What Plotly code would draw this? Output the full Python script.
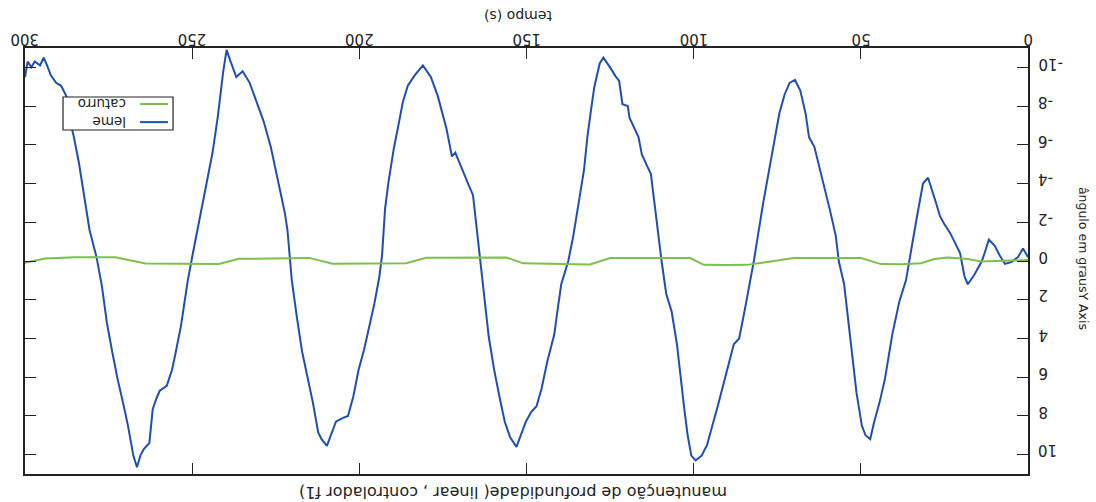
import plotly.graph_objects as go

# tempo (s) e ângulo do leme (graus)
leme_t = [0, 1.5, 3, 5, 6.9, 8.5, 10, 11.7, 13, 13.8, 16, 18, 19, 20.3, 22, 23.3, 25, 26.3,
          27.5, 28.7, 29.9, 31.4, 32.3, 33.2, 34.3, 35.3, 36.5, 38.5, 40.6, 42.8, 44.4, 46,
          47.2, 48.6, 49.7, 51.3, 52.3, 53.4, 55, 56.6, 57.5, 59.2, 60.2, 62.8, 63.9, 65.5,
          66.5, 68.1, 69.7, 71.3, 72.8, 74.4, 76, 77.6, 79.2, 80.7, 82, 84.8, 86.4, 88, 89.6,
          91.2, 92.8, 94.4, 96, 97.6, 99.4, 100.7, 101.8, 102.9, 103.9, 105, 106.6, 108.2,
          109.6, 111, 112.8, 113.9, 115.5, 116.5, 119.2, 119.7, 121.3, 122.3, 123.4, 125,
          127, 128.1, 129.7, 130.7, 131.8, 132.8, 134.4, 136, 137.5, 139.6, 140.6, 141.7,
          143.8, 145.5, 147, 148.6, 150.2, 151.8, 153, 154.9, 156.5, 158.1, 159.7, 161.3,
          162.8, 164, 165, 166, 167.6, 169.2, 170.7, 171.3, 172.3, 173.9, 176.5, 178.6, 181,
          183.4, 185.5, 187, 188.1, 189.7, 191.3, 192.3, 193.2, 194, 195.5, 197, 198.6,
          200.2, 201.8, 203.4, 204.9, 207, 208.6, 209.7, 211.3, 212.3, 213.9, 215.5, 217.1,
          218.6, 220.2, 220.9, 221.5, 222.3, 223.4, 224.9, 226.5, 228.6, 230.2, 232.8, 234.9,
          236.8, 238.5, 239.7, 240.7, 242.3, 243.9, 245.5, 247, 248.6, 249.9, 251.3, 252.3,
          253.4, 254.9, 256, 257.6, 259.7, 260.7, 261.8, 262.8, 264.4, 265.5, 266.5, 267.6,
          269.2, 270.7, 272.3, 273.9, 275.5, 277, 278.6, 280.7, 282.3, 283.9, 285.5, 286.5,
          287.6, 289.2, 290.7, 292.3, 293.4, 294.4, 295.5, 297.1, 298.1, 299.2, 300]
leme_v = [-0.2, -0.65, -0.2, 0.05, 0.15, -0.3, -0.8, -1.1, -0.4, 0.0, 0.7, 1.2, 0.8, -0.4,
          -1.0, -1.45, -1.9, -2.3, -3.0, -3.7, -4.3, -4.0, -3.2, -2.3, -1.2, -0.2, 1.0, 2.1,
          3.8, 6.1, 7.3, 8.3, 9.2, 9.0, 8.5, 6.8, 5.2, 3.5, 1.2, 0.0, -1.3, -2.6, -3.3, -5.0,
          -5.9, -6.4, -7.6, -8.8, -9.35, -9.2, -8.6, -7.6, -6.1, -4.7, -3.0, -1.4, 0.0, 2.6,
          4.0, 4.3, 5.4, 6.4, 7.5, 8.5, 9.5, 10.05, 10.3, 10.05, 9.0, 7.5, 6.1, 4.3, 2.6, 1.7,
          0.0, -2.0, -4.5, -4.9, -5.5, -6.4, -7.4, -8.0, -8.1, -9.3, -9.55, -10.0, -10.5,
          -10.2, -9.0, -7.8, -6.4, -4.7, -3.0, -1.3, 0.0, 1.2, 2.4, 3.8, 5.2, 6.6, 7.5, 7.8,
          8.3, 9.0, 9.6, 9.1, 8.3, 7.0, 5.6, 3.9, 1.5, -0.4, -2.0, -3.4, -4.05, -4.7, -5.4,
          -5.6, -5.4, -6.8, -8.5, -9.5, -10.1, -9.6, -9.05, -8.2, -7.2, -5.8, -4.05, -2.7,
          -0.3, 0.8, 2.2, 3.4, 4.6, 5.6, 7.0, 8.0, 8.1, 8.3, 9.0, 9.55, 9.2, 8.85, 7.3, 5.9,
          4.7, 3.0, 1.0, -0.4, -1.6, -2.5, -3.4, -4.7, -5.9, -7.2, -8.0, -9.2, -9.8, -9.5,
          -10.3, -10.9, -9.8, -7.5, -5.6, -4.2, -3.0, -1.6, -0.3, 1.0, 2.2, 3.4, 4.7, 5.6,
          6.45, 6.7, 7.1, 7.65, 9.4, 9.7, 10.05, 10.65, 10.05, 8.5, 7.3, 6.1, 4.7, 3.2, 1.3,
          -0.2, -1.6, -3.4, -5.1, -6.5, -7.2, -8.5, -9.05, -9.2, -9.6, -10.1, -10.5, -10.1,
          -10.3, -10.0, -10.3, -9.5]

# tempo (s) e ângulo de caturro (graus)
caturro_t = [0, 5, 10, 14, 18, 24, 28, 32, 38, 44, 50, 60, 70, 76, 84, 90, 97, 101, 110,
             125, 131, 140, 151, 156, 170, 180, 186, 198, 208, 215, 225, 236, 242, 255, 264,
             273, 285, 294, 300]
caturro_v = [-0.05, -0.02, 0.0, 0.03, -0.1, -0.18, -0.1, 0.12, 0.17, 0.16, -0.15, -0.16,
             -0.16, 0.0, 0.2, 0.21, 0.2, -0.15, -0.16, -0.15, 0.18, 0.17, 0.12, -0.18, -0.19,
             -0.17, 0.11, 0.13, 0.14, -0.16, -0.15, -0.11, 0.15, 0.14, 0.13, -0.19, -0.19,
             -0.13, 0.09]

x_ticks = [0, 50, 100, 150, 200, 250, 300]
x_tick_labels = ["0", "50", "100", "150", "200", "250", "300"]
y_ticks = [-10, -8, -6, -4, -2, 0, 2, 4, 6, 8, 10]
y_tick_labels = ["-10", "-8", "-6", "-4", "-2", "0", "2", "4", "6", "8", "10"]

BLUE = "#1f4fae"
GREEN = "#7cc04a"
INK = "#222222"
FONT = "DejaVu Sans"

fig = go.Figure()
fig.add_trace(go.Scatter(x=leme_t, y=leme_v, mode="lines", name="leme",
                         line=dict(color=BLUE, width=2)))
fig.add_trace(go.Scatter(x=caturro_t, y=caturro_v, mode="lines", name="caturro",
                         line=dict(color=GREEN, width=2)))

# the whole chart is drawn turned upside down: axes reversed, texts rotated 180°
axis_common = dict(showgrid=False, zeroline=False, showline=True, linecolor=INK,
                   linewidth=1.5, ticks="inside", ticklen=11, tickwidth=1.2,
                   tickcolor=INK, mirror="ticks", automargin=False,
                   showticklabels=False)

fig.update_layout(
    width=1096, height=502,
    margin=dict(l=25, r=68, t=48, b=28),
    paper_bgcolor="white", plot_bgcolor="white",
    showlegend=False,
    xaxis=dict(range=[300, 0], side="top", tickvals=x_ticks, **axis_common),
    yaxis=dict(range=[11, -11], side="right", tickvals=y_ticks, **axis_common),
)

# upside-down tick labels, placed at the axis tick positions
tick_font = dict(family=FONT, size=15, color=INK)
for val, lab in zip(x_ticks, x_tick_labels):
    fig.add_annotation(text=lab, xref="x", yref="paper", x=val, y=1.0,
                       xanchor="center", yanchor="middle", yshift=9,
                       showarrow=False, textangle=180, font=tick_font)
for val, lab in zip(y_ticks, y_tick_labels):
    fig.add_annotation(text=lab, xref="paper", yref="y", x=1.0, y=val,
                       xanchor="left", yanchor="middle", xshift=8, yshift=4,
                       showarrow=False, textangle=180, font=tick_font)

# titles
fig.add_annotation(text="manutenção de profundidade( linear , controlador f1)",
                   xref="paper", yref="paper", x=0.486, y=-0.042,
                   xanchor="center", yanchor="middle",
                   showarrow=False, textangle=180,
                   font=dict(family=FONT, size=16, color=INK))
fig.add_annotation(text="tempo (s)", xref="paper", yref="paper", x=0.4915, y=1.075,
                   xanchor="center", yanchor="middle",
                   showarrow=False, textangle=180,
                   font=dict(family=FONT, size=14, color=INK))
fig.add_annotation(text="ângulo em grausY Axis", xref="paper", yref="paper",
                   x=1.0548, y=0.505, xanchor="center", yanchor="middle",
                   showarrow=False, textangle=90,
                   font=dict(family=FONT, size=12.5, color=INK))

# legend box, drawn by hand so it can be turned upside down too
fig.add_shape(type="rect", xref="paper", yref="paper", x0=0.0379, x1=0.1476,
              y0=0.8075, y1=0.885, line=dict(color=INK, width=1.2), fillcolor="white",
              layer="above")
for name, color, yy in [("caturro", GREEN, 0.8685), ("leme", BLUE, 0.826)]:
    fig.add_shape(type="line", xref="paper", yref="paper", x0=0.1147, x1=0.1426,
                  y0=yy, y1=yy, line=dict(color=color, width=2), layer="above")
    fig.add_annotation(text=name, xref="paper", yref="paper", x=0.1027, y=yy,
                       xanchor="right", yanchor="middle", showarrow=False,
                       textangle=180, font=dict(family=FONT, size=13.5, color=INK))

fig.write_html("out.html")
